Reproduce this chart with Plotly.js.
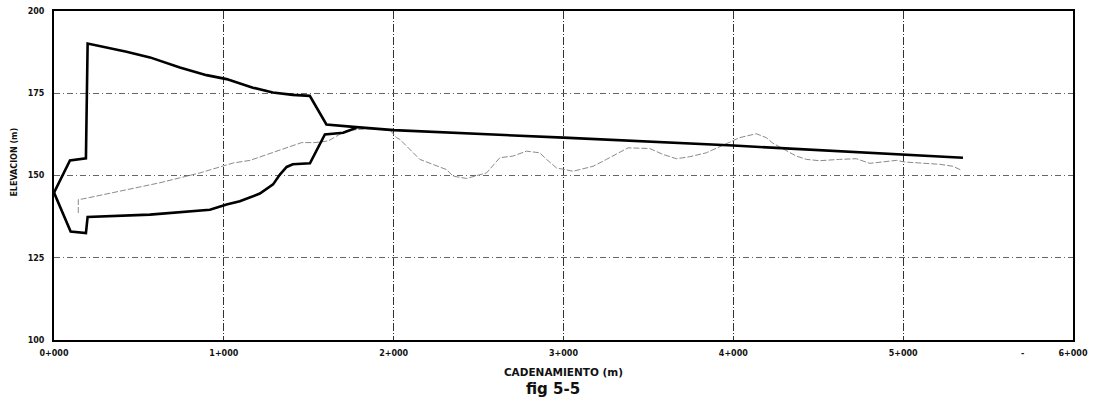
<!DOCTYPE html>
<html>
<head>
<meta charset="utf-8">
<script src="https://cdn.plot.ly/plotly-3.0.1.min.js"></script>
<style>html,body{margin:0;padding:0;background:#fff;}#chart{width:1093px;height:399px;}</style>
</head>
<body>
<div id="chart"></div>
<script>
// Upper envelope (thick) - chainage (m) and elevation (m)
const upperX = [0, 94, 188, 198, 427, 565, 741, 898, 1016, 1171, 1288, 1406, 1506, 1604, 1780, 2000, 3000, 4000, 5352];
const upperY = [144.8, 154.6, 155.2, 190.1, 187.6, 185.9, 182.8, 180.5, 179.3, 176.7, 175.2, 174.5, 174.2, 165.5, 164.7, 163.8, 161.5, 159.1, 155.4];

// Lower envelope (thick)
const lowerX = [0, 98, 188, 198, 565, 918, 1016, 1094, 1212, 1290, 1330, 1370, 1406, 1507, 1595, 1703, 1781];
const lowerY = [144.8, 133.0, 132.5, 137.4, 138.1, 139.6, 141.2, 142.2, 144.5, 147.3, 150.3, 152.6, 153.4, 153.7, 162.5, 163.0, 164.5];

// Ground / thin profile
const groundX = [143, 143, 172, 624, 860, 1055, 1154, 1458, 1536, 1614, 1723, 1850, 1980, 2017, 2036, 2154, 2311, 2350, 2429, 2547, 2625, 2702, 2782, 2860, 2900, 2959, 3057, 3174, 3253, 3380, 3508, 3586, 3665, 3743, 3841, 3998, 4037, 4135, 4194, 4233, 4371, 4430, 4508, 4626, 4724, 4803, 4881, 4960, 5009, 5117, 5215, 5293, 5343];
const groundY = [138.6, 142.7, 142.9, 147.8, 150.8, 153.8, 154.6, 160.0, 160.0, 160.5, 163.7, 164.2, 163.7, 161.5, 161.0, 154.9, 151.8, 149.8, 149.1, 150.8, 155.4, 155.9, 157.4, 156.9, 154.9, 152.3, 151.3, 152.8, 154.9, 158.4, 158.2, 156.4, 155.1, 155.7, 156.9, 160.5, 161.5, 162.7, 161.5, 159.8, 155.9, 154.9, 154.5, 154.9, 155.1, 153.7, 154.1, 154.6, 154.1, 153.8, 153.4, 152.8, 151.6];

// Axis ticks
const xTickVals = [0, 1000, 2000, 3000, 4000, 5000, 6000];
const xTickText = ["0+000", "1+000", "2+000", "3+000", "4+000", "5+000", "6+000"];
const yTickVals = [100, 125, 150, 175, 200];
const yTickText = ["100", "125", "150", "175", "200"];

const FONT = "DejaVu Sans, Arial, sans-serif";

const traces = [
  {x: groundX, y: groundY, mode: "lines", type: "scatter",
   line: {color: "#8a8a8a", width: 1, dash: "6px,2px"}, hoverinfo: "skip"},
  {x: upperX, y: upperY, mode: "lines", type: "scatter",
   line: {color: "#000", width: 2.6}},
  {x: lowerX, y: lowerY, mode: "lines", type: "scatter",
   line: {color: "#000", width: 2.6}}
];

const layout = {
  width: 1093, height: 399,
  margin: {l: 54, r: 20, t: 11, b: 59},
  paper_bgcolor: "#fff", plot_bgcolor: "#fff",
  showlegend: false,
  font: {family: FONT, color: "#111", size: 8, weight: "bold"},
  xaxis: {
    range: [0, 6000], tickvals: xTickVals, ticktext: xTickText,
    showgrid: true, gridcolor: "#333", gridwidth: 1, griddash: "8px,2px,1px,2px",
    zeroline: false, showline: true, mirror: true, linecolor: "#000", linewidth: 2,
    ticks: "", ticklabelstandoff: 4,
    tickfont: {family: FONT, size: 8, color: "#111", weight: "bold"},
    title: {text: "CADENAMIENTO (m)", font: {family: FONT, size: 10.5, color: "#111", weight: "bold"}, standoff: 12}
  },
  yaxis: {
    range: [100, 200], tickvals: yTickVals, ticktext: yTickText,
    showgrid: true, gridcolor: "#666", gridwidth: 1, griddash: "6px,3px,1px,3px",
    zeroline: false, showline: true, mirror: true, linecolor: "#000", linewidth: 2,
    ticks: "", ticklabelstandoff: 6,
    tickfont: {family: FONT, size: 8, color: "#111", weight: "bold"}
  },
  annotations: [
    {text: "ELEVACION (m)", xref: "paper", yref: "paper", x: -0.039, y: 0.54,
     textangle: -90, showarrow: false, xanchor: "center", yanchor: "middle",
     font: {family: FONT, size: 8, color: "#111", weight: "bold"}},
    {text: "fig 5-5", xref: "paper", yref: "paper", x: 0.4895, y: -0.117,
     showarrow: false, xanchor: "center", yanchor: "top",
     font: {family: FONT, size: 15, color: "#111", weight: "bold"}},
    {text: "-", xref: "x", yref: "paper", x: 5700, y: -0.02,
     showarrow: false, xanchor: "center", yanchor: "top",
     font: {family: FONT, size: 8, color: "#111", weight: "bold"}}
  ]
};

Plotly.newPlot("chart", traces, layout, {displayModeBar: false, staticPlot: true});
</script>
</body>
</html>
